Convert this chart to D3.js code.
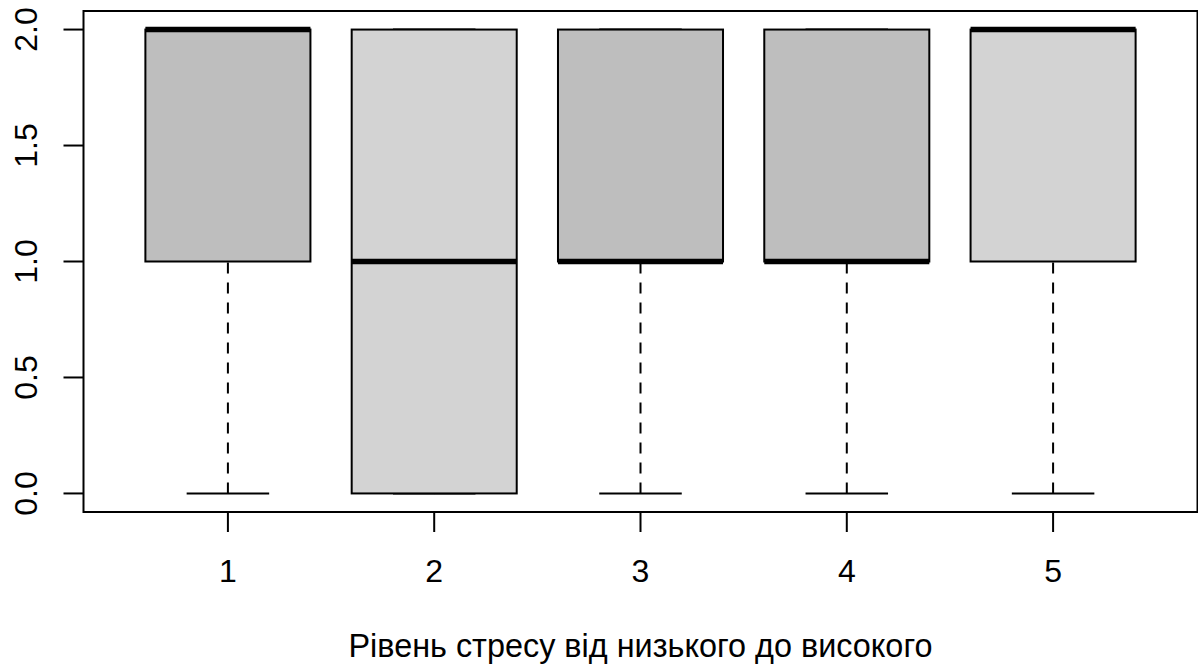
<!DOCTYPE html>
<html>
<head>
<meta charset="utf-8">
<script src="https://cdn.jsdelivr.net/npm/d3@7"></script>
<style>
  html, body { margin: 0; padding: 0; background: #fff; }
  svg { display: block; }
  text { font-family: "Liberation Sans", Arial, Helvetica, sans-serif; fill: #000; }
</style>
</head>
<body>
<svg id="chart" width="1198" height="668"></svg>
<script>
// Stress level groups (1 = low ... 5 = high)
const groups = ["1", "2", "3", "4", "5"];
// Five-number summaries per group
const lowerWhisker = [0, 0, 0, 0, 0];
const q1Values     = [1, 0, 1, 1, 1];
const medians      = [2, 1, 1, 1, 2];
const q3Values     = [2, 2, 2, 2, 2];
const upperWhisker = [2, 2, 2, 2, 2];
const fills        = ["#bebebe", "#d3d3d3", "#bebebe", "#bebebe", "#d3d3d3"];
const yTicks       = [0, 0.5, 1, 1.5, 2];
const xTitle       = "Рівень стресу від низького до високого";

const svg = d3.select("#chart");

// plot region, with R-style 4% padding on both axes
const plotLeft = 83.5, plotRight = 1197.5, plotTop = 11, plotBottom = 512;
const x = d3.scaleLinear().domain([0.3, 5.7]).range([plotLeft, plotRight]);
const y = d3.scaleLinear().domain([-0.08, 2.08]).range([plotBottom, plotTop]);

const boxHalf = 0.4, capHalf = 0.2;
const lw = 2;

const data = groups.map((g, i) => ({
  g, pos: i + 1,
  lo: lowerWhisker[i], q1: q1Values[i], med: medians[i], q3: q3Values[i], hi: upperWhisker[i],
  fill: fills[i]
}));

const boxes = svg.append("g").selectAll("g").data(data).join("g");

// lower whisker (dashed)
boxes.append("line")
  .attr("x1", d => x(d.pos)).attr("x2", d => x(d.pos))
  .attr("y1", d => y(d.lo)).attr("y2", d => y(d.q1))
  .attr("stroke", "#000").attr("stroke-width", lw)
  .attr("stroke-dasharray", "11,9").attr("stroke-linecap", "butt");
// upper whisker (dashed)
boxes.filter(d => d.hi > d.q3).append("line")
  .attr("x1", d => x(d.pos)).attr("x2", d => x(d.pos))
  .attr("y1", d => y(d.hi)).attr("y2", d => y(d.q3))
  .attr("stroke", "#000").attr("stroke-width", lw)
  .attr("stroke-dasharray", "11,9");
// whisker caps
boxes.append("line")
  .attr("x1", d => x(d.pos - capHalf)).attr("x2", d => x(d.pos + capHalf))
  .attr("y1", d => y(d.lo)).attr("y2", d => y(d.lo))
  .attr("stroke", "#000").attr("stroke-width", lw);
boxes.append("line")
  .attr("x1", d => x(d.pos - capHalf)).attr("x2", d => x(d.pos + capHalf))
  .attr("y1", d => y(d.hi)).attr("y2", d => y(d.hi))
  .attr("stroke", "#000").attr("stroke-width", lw);
// box
boxes.append("rect")
  .attr("x", d => x(d.pos - boxHalf))
  .attr("width", d => x(d.pos + boxHalf) - x(d.pos - boxHalf))
  .attr("y", d => y(d.q3))
  .attr("height", d => y(d.q1) - y(d.q3))
  .attr("fill", d => d.fill)
  .attr("stroke", "#000").attr("stroke-width", lw);
// median
boxes.append("line")
  .attr("x1", d => x(d.pos - boxHalf)).attr("x2", d => x(d.pos + boxHalf))
  .attr("y1", d => y(d.med)).attr("y2", d => y(d.med))
  .attr("stroke", "#000").attr("stroke-width", 5.5).attr("stroke-linecap", "butt");

// frame
svg.append("rect")
  .attr("x", plotLeft).attr("y", plotTop)
  .attr("width", plotRight - plotLeft).attr("height", plotBottom - plotTop)
  .attr("fill", "none").attr("stroke", "#000").attr("stroke-width", lw);

// x axis
const xAxis = svg.append("g");
xAxis.selectAll("line").data(data).join("line")
  .attr("x1", d => x(d.pos)).attr("x2", d => x(d.pos))
  .attr("y1", plotBottom).attr("y2", plotBottom + 20)
  .attr("stroke", "#000").attr("stroke-width", lw);
xAxis.selectAll("text").data(data).join("text")
  .attr("x", d => x(d.pos)).attr("y", 582)
  .attr("text-anchor", "middle").attr("font-size", 32)
  .text(d => d.g);

// y axis
const yAxis = svg.append("g");
yAxis.selectAll("line").data(yTicks).join("line")
  .attr("x1", plotLeft - 20).attr("x2", plotLeft)
  .attr("y1", d => y(d)).attr("y2", d => y(d))
  .attr("stroke", "#000").attr("stroke-width", lw);
yAxis.selectAll("text").data(yTicks).join("text")
  .attr("transform", d => `translate(37,${y(d)}) rotate(-90)`)
  .attr("text-anchor", "middle").attr("font-size", 32)
  .text(d => d3.format(".1f")(d));

// axis title
svg.append("text")
  .attr("x", (plotLeft + plotRight) / 2).attr("y", 657)
  .attr("text-anchor", "middle").attr("font-size", 32.4)
  .text(xTitle);
</script>
</body>
</html>
